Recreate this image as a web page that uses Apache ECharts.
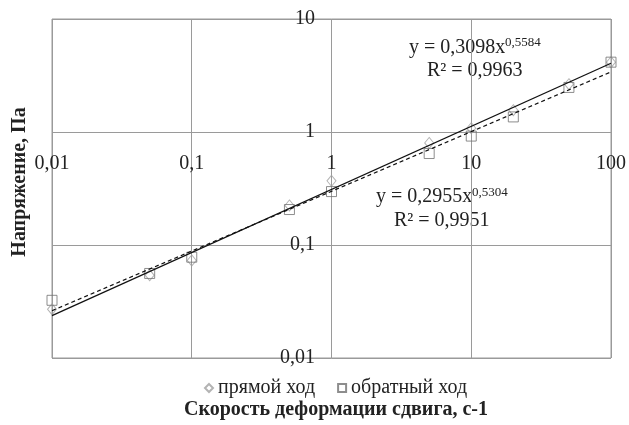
<!DOCTYPE html>
<html>
<head>
<meta charset="utf-8">
<script src="https://cdn.jsdelivr.net/npm/echarts@6/dist/echarts.min.js"></script>
<style>
  html, body { margin: 0; padding: 0; background: #fff; }
  #chart { width: 629px; height: 425px; }
</style>
</head>
<body>
<div id="chart"></div>
<script>
// скорость сдвига, c-1
const shearRate = [0.01, 0.05, 0.1, 0.5, 1, 5, 10, 20, 50, 100];
// прямой ход (ромбы)
const forwardStress = [0.027, 0.054, 0.073, 0.224, 0.37, 0.80, 1.08, 1.56, 2.65, 4.15];
// обратный ход (квадраты)
const backwardStress = [0.0324, 0.056, 0.078, 0.206, 0.297, 0.645, 0.92, 1.36, 2.48, 4.15];
// концы линий тренда
const forwardTrend = [[0.01, 0.0237], [100, 4.06]];
const backwardTrend = [[0.01, 0.0262], [100, 3.40]];
const xTickLabels = ['0,01', '0,1', '1', '10', '100'];
const yTickLabels = ['0,01', '0,1', '1', '10'];
const seriesNames = ['прямой ход', 'обратный ход'];

const font = 'Liberation Serif, Times New Roman, serif';
const gridColor = '#9a9a9a';

const chart = echarts.init(document.getElementById('chart'));

const pairs = (xs, ys) => xs.map((x, i) => [x, ys[i]]);

const option = {
    animation: false,
    textStyle: { fontFamily: font },
    grid: {
        left: 52, right: 17, top: 19, bottom: 67,
        show: true,
        borderColor: gridColor,
        borderWidth: 1,
    },
    legend: {
        data: seriesNames,
        top: 373,
        left: 199,
        itemWidth: 8,
        itemHeight: 8,
        itemGap: 22,
        textStyle: { fontFamily: font, fontSize: 20, color: '#222' },
    },
    xAxis: {
        type: 'log',
        logBase: 10,
        min: 0.01,
        max: 100,
        position: 'bottom',
        offset: -226,
        axisLine: { show: false },
        axisTick: { show: false },
        axisLabel: {
            margin: 22,
            fontSize: 20,
            color: '#222',
            fontFamily: font,
            formatter: (v) => xTickLabels[Math.round(Math.log10(v)) + 2],
        },
        splitLine: { show: true, lineStyle: { color: gridColor, width: 1 } },
    },
    yAxis: {
        type: 'log',
        logBase: 10,
        min: 0.01,
        max: 10,
        position: 'left',
        offset: -280,
        axisLine: { show: false },
        axisTick: { show: false },
        axisLabel: {
            margin: 17,
            fontSize: 20,
            color: '#222',
            fontFamily: font,
            formatter: (v) => yTickLabels[Math.round(Math.log10(v)) + 2],
        },
        splitLine: { show: true, lineStyle: { color: gridColor, width: 1 } },
    },
    graphic: [
        {
            type: 'text', x: 20, y: 182, rotation: Math.PI / 2,
            style: {
                text: 'Напряжение, Па', font: 'bold 20px ' + font, fill: '#222',
                align: 'center', verticalAlign: 'middle',
            },
        },
        {
            type: 'text', x: 336, y: 410,
            style: {
                text: 'Скорость деформации сдвига, с-1', font: 'bold 20px ' + font, fill: '#222',
                align: 'center', verticalAlign: 'middle',
            },
        },
        { type: 'text', left: 409, top: 38, style: { text: 'y = 0,3098x', font: '20px ' + font, fill: '#222' } },
        { type: 'text', left: 505, top: 36, style: { text: '0,5584', font: '13px ' + font, fill: '#222' } },
        { type: 'text', left: 427, top: 61, style: { text: 'R² = 0,9963', font: '20px ' + font, fill: '#222' } },
        { type: 'text', left: 376, top: 187, style: { text: 'y = 0,2955x', font: '20px ' + font, fill: '#222' } },
        { type: 'text', left: 472, top: 186, style: { text: '0,5304', font: '13px ' + font, fill: '#222' } },
        { type: 'text', left: 394, top: 211, style: { text: 'R² = 0,9951', font: '20px ' + font, fill: '#222' } },
    ],
    series: [
        {
            name: seriesNames[0],
            type: 'scatter',
            symbol: 'diamond',
            symbolSize: [9, 11],
            itemStyle: { color: 'rgba(0,0,0,0)', borderColor: '#a0a0a0', borderWidth: 1 },
            data: pairs(shearRate, forwardStress),
            z: 3,
        },
        {
            name: seriesNames[1],
            type: 'scatter',
            symbol: 'rect',
            symbolSize: 10,
            itemStyle: { color: 'rgba(0,0,0,0)', borderColor: '#707070', borderWidth: 1 },
            data: pairs(shearRate, backwardStress),
            z: 3,
        },
        {
            name: 'trend1',
            type: 'line',
            showSymbol: false,
            silent: true,
            lineStyle: { color: '#111', width: 1.3 },
            data: forwardTrend,
            z: 4,
        },
        {
            name: 'trend2',
            type: 'line',
            showSymbol: false,
            silent: true,
            lineStyle: { color: '#111', width: 1.2, type: [4, 3] },
            data: backwardTrend,
            z: 4,
        },
    ],
};

chart.setOption(option);
</script>
</body>
</html>
